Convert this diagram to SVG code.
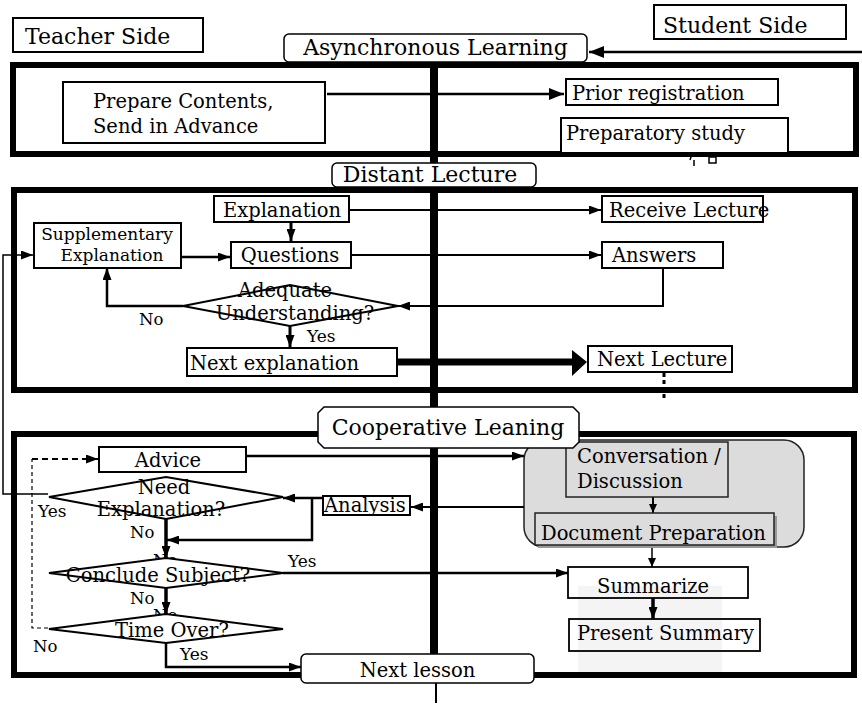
<svg xmlns="http://www.w3.org/2000/svg" width="862" height="705" viewBox="0 0 862 705">
<defs>
<marker id="ah" viewBox="0 0 12 9" refX="12" refY="4.5" markerWidth="12" markerHeight="9" markerUnits="userSpaceOnUse" orient="auto"><path d="M0,0 L12,4.5 L0,9 z" fill="#000"/></marker>
<marker id="ahl" viewBox="0 0 15 12" refX="15" refY="6" markerWidth="15" markerHeight="12" markerUnits="userSpaceOnUse" orient="auto"><path d="M0,0 L15,6 L0,12 z" fill="#000"/></marker>
<marker id="ahs" viewBox="0 0 9 8" refX="9" refY="4" markerWidth="9" markerHeight="8" markerUnits="userSpaceOnUse" orient="auto"><path d="M0,0 L9,4 L0,8 z" fill="#000"/></marker>
</defs>
<style>
text{font-family:"DejaVu Serif","Liberation Serif",serif;fill:#000;font-size:19.5px}
.f22{font-size:22px}
.f17{font-size:17px}
.f16{font-size:16.5px}
.mid{text-anchor:middle}
.box{fill:#fff;stroke:#000;stroke-width:2}
.open{fill:none;stroke:#000;stroke-width:1.8}
.sec{fill:none;stroke:#000;stroke-width:6}
.tag{fill:#fff;stroke:#000;stroke-width:1.5}
.dia{fill:#fff;stroke:#000;stroke-width:2}
.gray{fill:#dcdcdc;stroke:#222;stroke-width:1.5}
</style>
<rect width="862" height="705" fill="#fff"/>

<g id="sections">
<rect class="sec" x="13" y="65" width="843" height="89"/>
<rect class="sec" x="14" y="190" width="841" height="200"/>
<rect class="sec" x="14" y="434" width="840" height="241"/>
<line x1="434" y1="62" x2="434" y2="656" stroke="#000" stroke-width="8"/>
<line x1="436" y1="683" x2="436" y2="703" stroke="#000" stroke-width="2"/>
<path d="M690,160 L692,154 M694,160 V166" stroke="#000" stroke-width="1.5" fill="none"/>
<rect x="709" y="157" width="7" height="6" fill="none" stroke="#000" stroke-width="1.5"/>
</g>

<g id="group-area">
<rect class="gray" x="524" y="440" width="280" height="107" rx="20"/>
<rect x="578" y="586" width="144" height="86" fill="#f4f4f4"/>
</g>

<g id="connectors" fill="none" stroke="#000">
<path d="M862,52 H589" stroke-width="2.5" marker-end="url(#ahl)"/>
<path d="M327,94 H564" stroke-width="2.5" marker-end="url(#ahl)"/>
<path d="M350,210 H601" stroke-width="2" marker-end="url(#ah)"/>
<path d="M291,222 V241" stroke-width="3" marker-end="url(#ah)"/>
<path d="M352,255 H601" stroke-width="2" marker-end="url(#ah)"/>
<path d="M182,257 H230" stroke-width="2.5" marker-end="url(#ah)"/>
<path d="M663,269 V306 H398" stroke-width="2" marker-end="url(#ah)"/>
<path d="M183,306 H107 V268" stroke-width="2.5" marker-end="url(#ah)"/>
<path d="M290,326 V347" stroke-width="3" marker-end="url(#ah)"/>
<path d="M398,362 H574" stroke-width="7"/>
<polygon points="572,350 587,362 572,376" fill="#000" stroke="none"/>
<path d="M664,373 V400" stroke-width="3" stroke-dasharray="4 3"/>
<path d="M48,494 H3 V255 H33" stroke-width="1.5" marker-end="url(#ah)"/>
<path d="M48,628 H32 V459" stroke-width="1.2" stroke-dasharray="4 3"/>
<path d="M32,459 H98" stroke-width="2" stroke-dasharray="6 4" marker-end="url(#ah)"/>
<path d="M247,456 H524" stroke-width="2.5" marker-end="url(#ah)"/>
<path d="M524,507 H411" stroke-width="2" marker-end="url(#ah)"/>
<path d="M322,498 H283" stroke-width="2.5" marker-end="url(#ah)"/>
<path d="M312,498 V540 H167" stroke-width="2.5" marker-end="url(#ah)"/>
<path d="M166,519 V558" stroke-width="3.5" marker-end="url(#ah)"/>
<path d="M166,588 V614" stroke-width="3.5" marker-end="url(#ah)"/>
<path d="M283,573 H568" stroke-width="2.5" marker-end="url(#ah)"/>
<path d="M166,643 V667 H301" stroke-width="2.5" marker-end="url(#ah)"/>
<path d="M653,497 V513" stroke-width="2" marker-end="url(#ahs)"/>
<path d="M652,548 V567" stroke-width="1.5" marker-end="url(#ahs)"/>
<path d="M653,598 V619" stroke-width="3.5" marker-end="url(#ah)"/>
</g>

<g id="teacher-side"><rect class="box" x="13" y="18" width="190" height="34" stroke-width="1.5"/><text class="f22" x="25" y="44">Teacher Side</text></g>
<g id="student-side"><rect class="box" x="654" y="5" width="192" height="34" stroke-width="1.5"/><text class="f22" x="663" y="33">Student Side</text></g>

<g id="prepare"><rect class="box" x="63" y="82" width="262" height="61" stroke-width="3.5"/><text x="93" y="108">Prepare Contents,</text><text x="93" y="133">Send in Advance</text></g>
<g id="prior"><rect class="box" x="566" y="79" width="212" height="26" stroke-width="4"/><text x="572" y="100">Prior registration</text></g>
<g id="preparatory"><rect class="box" x="561" y="118" width="227" height="35" stroke-width="4"/><text x="566" y="140">Preparatory study</text></g>

<g id="explanation"><rect class="box" x="214" y="196" width="135" height="26"/><text class="mid" x="282" y="217">Explanation</text></g>
<g id="receive"><rect class="box" x="602" y="196" width="161" height="26" stroke-width="1.5"/><text x="609" y="217">Receive Lecture</text></g>
<g id="questions"><rect class="box" x="231" y="242" width="120" height="26"/><text class="mid" x="290" y="262">Questions</text></g>
<g id="answers"><rect class="box" x="602" y="242" width="121" height="26"/><text x="612" y="262">Answers</text></g>
<g id="supplementary"><rect class="box" x="34" y="223" width="147" height="45" stroke-width="1.5"/><text class="f17 mid" x="107" y="240">Supplementary</text><text class="f17 mid" x="112" y="261">Explanation</text></g>
<g id="adequate"><polygon class="dia" points="183,306 290,285 398,306 290,326"/><text class="mid" x="285" y="297">Adequate</text><text class="mid" x="295" y="320">Understanding?</text></g>
<g id="next-explanation"><rect class="box" x="187" y="348" width="210" height="28"/><text x="190" y="370">Next explanation</text></g>
<g id="next-lecture"><rect class="box" x="588" y="346" width="144" height="26"/><text x="597" y="366">Next Lecture</text></g>

<g id="advice"><rect class="box" x="99" y="447" width="147" height="25" stroke-width="2.5"/><text class="mid" x="168" y="467">Advice</text></g>
<g id="need"><text class="f16" x="153" y="566">No</text><polygon class="dia" points="49,497 166,477 283,497 166,519"/><text class="mid" x="164" y="494">Need</text><text class="mid" x="161" y="516">Explanation?</text></g>
<g id="analysis"><rect class="box" x="323" y="496" width="87" height="19" stroke-width="2.5"/><text x="324" y="512">Analysis</text></g>
<g id="conclude"><text class="f16" x="153" y="621">No</text><polygon class="dia" points="49,573 166,558 283,573 166,588"/><text class="mid" x="158" y="582">Conclude Subject?</text></g>
<g id="time-over"><polygon class="dia" points="49,629 166,614 283,629 166,643"/><text class="mid" x="172" y="637">Time Over?</text></g>
<g id="conversation"><rect class="gray" x="566" y="442" width="162" height="55"/><text x="577" y="463">Conversation /</text><text x="577" y="488">Discussion</text></g>
<g id="document"><rect x="538" y="516" width="239" height="32" fill="#999"/><rect class="gray" x="535" y="513" width="239" height="32"/><text x="541" y="540">Document Preparation</text></g>
<g id="summarize"><rect class="open" x="568" y="567" width="180" height="31"/><text class="mid" x="653" y="593">Summarize</text></g>
<g id="present"><rect class="open" x="569" y="619" width="191" height="32"/><text x="577" y="640">Present Summary</text></g>

<g id="tag-async"><rect class="tag" x="284" y="34" width="303" height="28" rx="5"/><text class="f22 mid" x="435.5" y="55">Asynchronous Learning</text></g>
<g id="tag-distant"><rect class="tag" x="332" y="163" width="204" height="24" rx="5"/><text class="f22 mid" x="430" y="182">Distant Lecture</text></g>
<g id="tag-coop"><path class="tag" d="M324,407 H573 L579,413 V442 L573,448 H324 L318,442 V413 Z"/><text class="f22 mid" x="448" y="435">Cooperative Leaning</text></g>
<g id="tag-next-lesson"><rect class="tag" x="301" y="654" width="233" height="29" rx="5"/><text class="mid" x="417.5" y="677">Next lesson</text></g>

<g id="labels">
<text class="f16" x="139" y="325">No</text>
<text class="f17" x="307" y="342">Yes</text>
<text class="f17" x="38" y="517">Yes</text>
<text class="f16" x="130" y="538">No</text>
<text class="f17" x="288" y="567">Yes</text>
<text class="f16" x="130" y="604">No</text>
<text class="f16" x="33" y="652">No</text>
<text class="f17" x="180" y="660">Yes</text>
</g>
</svg>
